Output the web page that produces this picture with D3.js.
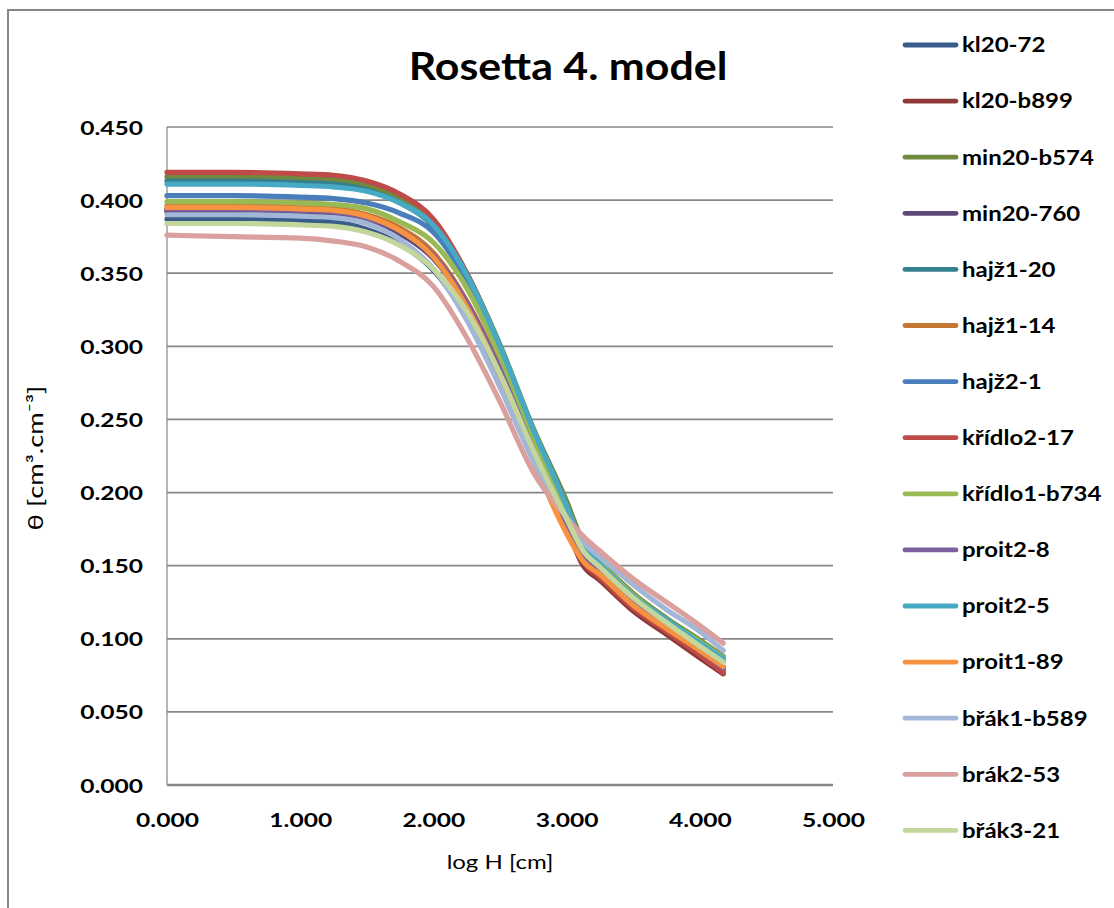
<!DOCTYPE html>
<html><head><meta charset="utf-8">
<script src="https://cdn.jsdelivr.net/npm/d3@7"></script>
<style>
body{margin:0;background:#fff;}
svg{display:block;}
text{font-family:Lato,"Open Sans","DejaVu Sans",sans-serif;fill:#000;}
</style>
</head><body>
<svg id="chart" width="1114" height="908"></svg>
<script>
// ---- data ----
const logH = [0, 0.5, 1.0, 1.25, 1.5, 1.75, 2.0, 2.25, 2.5, 2.75, 3.0, 3.125, 3.25, 3.5, 3.75, 4.0, 4.176];
const seriesNames = ["kl20-72","kl20-b899","min20-b574","min20-760","hajž1-20","hajž1-14","hajž2-1","křídlo2-17","křídlo1-b734","proit2-8","proit2-5","proit1-89","břák1-b589","brák2-53","břák3-21"];
const seriesColors = ["#385D8A","#8E3A38","#71893F","#5E4878","#34808F","#C47632","#4A7EBB","#BE4B48","#98B954","#7D60A0","#46AAC5","#F69240","#A2B7D8","#D9A09E","#C3D69B"];
const kl20_72      = [0.387,0.387,0.386,0.385,0.380,0.370,0.352,0.320,0.275,0.222,0.178,0.157,0.147,0.125,0.109,0.092,0.080];
const kl20_b899    = [0.393,0.393,0.392,0.391,0.387,0.378,0.362,0.330,0.285,0.229,0.176,0.150,0.140,0.119,0.103,0.087,0.076];
const min20_b574   = [0.416,0.416,0.415,0.414,0.410,0.401,0.385,0.350,0.301,0.244,0.194,0.166,0.153,0.131,0.114,0.099,0.088];
const min20_760    = [0.392,0.392,0.391,0.390,0.386,0.377,0.360,0.328,0.283,0.228,0.179,0.154,0.143,0.122,0.106,0.090,0.079];
const hajz1_20     = [0.413,0.413,0.412,0.411,0.407,0.398,0.382,0.347,0.299,0.242,0.190,0.162,0.150,0.128,0.112,0.096,0.085];
const hajz1_14     = [0.396,0.396,0.395,0.394,0.390,0.381,0.364,0.331,0.285,0.229,0.178,0.155,0.145,0.124,0.108,0.092,0.081];
const hajz2_1      = [0.403,0.403,0.402,0.401,0.398,0.391,0.378,0.345,0.297,0.238,0.183,0.155,0.144,0.122,0.106,0.090,0.079];
const kridlo2_17   = [0.419,0.419,0.418,0.417,0.413,0.404,0.387,0.350,0.299,0.240,0.183,0.153,0.142,0.121,0.105,0.089,0.077];
const kridlo1_b734 = [0.399,0.399,0.398,0.397,0.394,0.385,0.371,0.340,0.293,0.237,0.189,0.164,0.152,0.130,0.113,0.098,0.087];
const proit2_8     = [0.394,0.394,0.393,0.392,0.388,0.379,0.362,0.330,0.284,0.229,0.179,0.156,0.146,0.124,0.108,0.092,0.080];
const proit2_5     = [0.411,0.411,0.410,0.409,0.406,0.398,0.383,0.349,0.300,0.243,0.191,0.163,0.151,0.129,0.113,0.097,0.086];
const proit1_89    = [0.395,0.395,0.394,0.393,0.389,0.379,0.361,0.327,0.280,0.222,0.172,0.153,0.144,0.123,0.107,0.092,0.081];
const brak1_b589   = [0.390,0.390,0.389,0.388,0.384,0.373,0.353,0.318,0.272,0.222,0.183,0.166,0.156,0.137,0.120,0.105,0.092];
const brak2_53     = [0.376,0.375,0.374,0.372,0.368,0.358,0.341,0.306,0.262,0.214,0.183,0.170,0.160,0.141,0.125,0.109,0.097];
const brak3_21     = [0.384,0.384,0.383,0.382,0.378,0.369,0.353,0.324,0.281,0.229,0.182,0.160,0.149,0.128,0.111,0.095,0.084];
const seriesValues = [kl20_72,kl20_b899,min20_b574,min20_760,hajz1_20,hajz1_14,hajz2_1,kridlo2_17,kridlo1_b734,proit2_8,proit2_5,proit1_89,brak1_b589,brak2_53,brak3_21];
const xTicks = [0,1,2,3,4,5];
const yTicks = [0,0.05,0.10,0.15,0.20,0.25,0.30,0.35,0.40,0.45];
const titleText = "Rosetta 4. model";
const xTitle = "log H [cm]";
const yTitle = "θ [cm³.cm⁻³]";

// ---- drawing ----
const svg = d3.select("#chart");
function stretch(sel, k){
  sel.each(function(){
    const w = this.getComputedTextLength();
    d3.select(this).attr("textLength", w*k).attr("lengthAdjust","spacingAndGlyphs");
  });
}

svg.append("rect").attr("x",8).attr("y",10).attr("width",1200).attr("height",1000)
  .attr("fill","none").attr("stroke","#868686").attr("stroke-width",2);

const x = d3.scaleLinear().domain([0,5]).range([167,833]);
const y = d3.scaleLinear().domain([0,0.45]).range([785,127]);

// gridlines
svg.append("g").selectAll("line").data(yTicks.filter(d=>d>0)).join("line")
  .attr("x1",x(0)).attr("x2",x(5)).attr("y1",d=>y(d)).attr("y2",d=>y(d))
  .attr("stroke","#878787").attr("stroke-width",1.7);

// y axis
const gy = svg.append("g").attr("transform",`translate(${x(0)},0)`)
  .call(d3.axisLeft(y).tickValues(yTicks).tickFormat(d3.format(".3f")).tickSize(0).tickPadding(24));
gy.select(".domain").remove();
gy.selectAll("text").style("font-size","19.5px").style("font-weight","700").attr("dy","0.36em");
svg.append("line").attr("x1",x(0)).attr("x2",x(0)).attr("y1",y(0.45)).attr("y2",y(0))
  .attr("stroke","#878787").attr("stroke-width",1.2);

// x axis
const gx = svg.append("g").attr("transform",`translate(0,${y(0)})`)
  .call(d3.axisBottom(x).tickValues(xTicks).tickFormat(d3.format(".3f")).tickSize(0).tickPadding(28));
gx.select(".domain").remove();
gx.selectAll("text").style("font-size","19.5px").style("font-weight","700");
svg.append("line").attr("x1",x(0)).attr("x2",x(5)).attr("y1",y(0)).attr("y2",y(0))
  .attr("stroke","#878787").attr("stroke-width",2.4);

// series
const line = d3.line().x((d,i)=>x(logH[i])).y(d=>y(d)).curve(d3.curveMonotoneX);
svg.append("g").selectAll("path").data(seriesValues).join("path")
  .attr("d",line).attr("fill","none")
  .attr("stroke",(d,i)=>seriesColors[i]).attr("stroke-width",5.2)
  .attr("stroke-linejoin","round").attr("stroke-linecap","round");

// legend
const lg = svg.append("g");
seriesNames.forEach((n,i)=>{
  const ly = 45 + 56.1*i;
  lg.append("line").attr("x1",905).attr("x2",956).attr("y1",ly).attr("y2",ly)
    .attr("stroke",seriesColors[i]).attr("stroke-width",4.8).attr("stroke-linecap","round");
  lg.append("text").attr("class","lt").attr("x",962).attr("y",ly).attr("dy","0.36em")
    .style("font-size","20.5px").style("font-weight","700").text(n);
});

// titles
svg.append("text").attr("class","ttl").attr("x",568).attr("y",80).attr("text-anchor","middle")
  .style("font-size","39px").style("font-weight","700").text(titleText);
svg.append("text").attr("class","xt").attr("x",500).attr("y",869).attr("text-anchor","middle")
  .style("font-size","20px").text(xTitle);
svg.append("text").attr("class","yt").attr("transform","translate(43,458) rotate(-90)").attr("text-anchor","middle")
  .style("font-size","21px").text(yTitle);

stretch(gy.selectAll("text"), 1.26);
stretch(gx.selectAll("text"), 1.26);
stretch(svg.selectAll("text.lt"), 1.17);
stretch(svg.selectAll("text.ttl"), 1.1);
stretch(svg.selectAll("text.xt"), 1.2);
stretch(svg.selectAll("text.yt"), 1.3);
</script>
</body></html>
